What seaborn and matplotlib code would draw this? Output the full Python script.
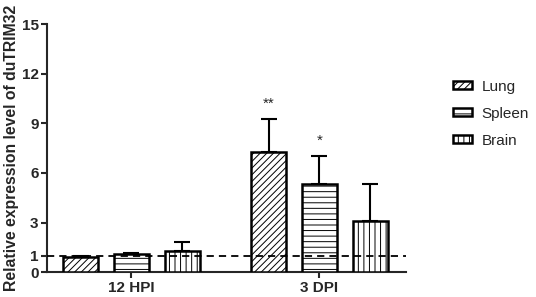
import pandas as pd
import matplotlib.pyplot as plt
import seaborn as sns
from matplotlib.patches import Patch

times = ["12 HPI", "3 DPI"]
tissues = ["Lung", "Spleen", "Brain"]
lung_mean = [0.95, 7.27]
spleen_mean = [1.08, 5.32]
brain_mean = [1.28, 3.11]
lung_err = [0.05, 2.0]
spleen_err = [0.06, 1.73]
brain_err = [0.56, 2.2]
stars = {("3 DPI", "Lung"): "**", ("3 DPI", "Spleen"): "*"}
yticks = [0, 1, 3, 6, 9, 12, 15]

means = {"Lung": lung_mean, "Spleen": spleen_mean, "Brain": brain_mean}
errs = {"Lung": lung_err, "Spleen": spleen_err, "Brain": brain_err}
hatches = {"Lung": "/////", "Spleen": "---", "Brain": "|||"}

rows = []
for t in tissues:
    for i, tm in enumerate(times):
        rows.append({"time": tm, "tissue": t, "value": means[t][i], "err": errs[t][i]})
df = pd.DataFrame(rows)

sns.set_style("ticks")
plt.rcParams["font.family"] = ["Liberation Sans", "DejaVu Sans"]
plt.rcParams["hatch.linewidth"] = 0.7

fig = plt.figure(figsize=(5.36, 2.97), dpi=100)
ax = fig.add_axes([0.0877, 0.0832, 0.6693, 0.8358])

sns.barplot(data=df, x="time", y="value", hue="tissue", order=times, hue_order=tissues,
            width=0.81, gap=0.31, color="white", edgecolor="black", linewidth=1.8,
            errorbar=None, legend=False, ax=ax)

for cont, t in zip(ax.containers, tissues):
    sub = df[df["tissue"] == t].set_index("time").loc[times]
    for bar, tm in zip(cont, times):
        bar.set_facecolor("white")
        bar.set_hatch(hatches[t])
        bar.set_edgecolor("black")
        bar.set_zorder(3)
        xc = bar.get_x() + bar.get_width() / 2
        v = sub.loc[tm, "value"]
        e = sub.loc[tm, "err"]
        ax.errorbar(xc, v, yerr=[[0], [e]], fmt="none", ecolor="black",
                    elinewidth=1.5, capsize=5.8, capthick=1.5, zorder=2)
        if (tm, t) in stars:
            ax.text(xc, v + e + 0.5, stars[(tm, t)], ha="center", va="bottom", fontsize=11)

ax.axhline(1, color="black", linestyle=(0, (4, 2.8)), linewidth=1.3, zorder=4)

ax.set_xlim(-0.449, 1.46)
ax.set_ylim(0, 15)
ax.set_yticks(yticks)
ax.set_xlabel("")
ax.set_ylabel("Relative expression level of duTRIM32", fontsize=11.3, fontweight="bold", labelpad=2)
for lab in ax.get_xticklabels() + ax.get_yticklabels():
    lab.set_fontweight("bold")
    lab.set_fontsize(11)
ax.tick_params(axis="both", width=1.5, length=4, pad=2)
sns.despine(ax=ax)
for s in ["left", "bottom"]:
    ax.spines[s].set_linewidth(1.5)

handles = [Patch(facecolor="white", edgecolor="black", hatch=hatches[t], linewidth=1.8, label=t)
           for t in tissues]
fig.legend(handles=handles, loc="upper left", bbox_to_anchor=(0.82, 0.778), frameon=False,
           fontsize=11, handlelength=1.2, handleheight=0.45, labelspacing=0.85,
           handletextpad=0.65)

fig.savefig("out.png", dpi=100)
